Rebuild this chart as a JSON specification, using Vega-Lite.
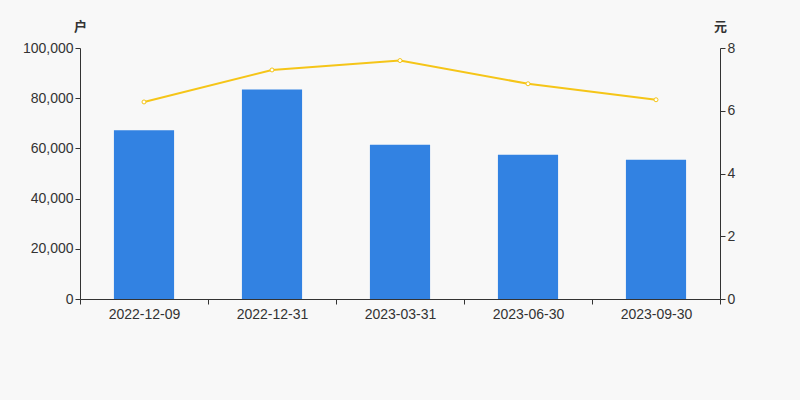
{
  "$schema": "https://vega.github.io/schema/vega-lite/v6.json",
  "autosize": "none",
  "width": 640,
  "height": 251,
  "padding": {"left": 80, "top": 48, "right": 80, "bottom": 101},
  "background": "#F8F8F8",
  "config": {
    "view": {"stroke": null},
    "font": "Liberation Sans",
    "axis": {
      "labelFont": "Liberation Sans",
      "labelFontSize": 14,
      "labelColor": "#333333",
      "domainColor": "#333333",
      "tickColor": "#333333",
      "grid": false,
      "titleFont": "Noto Sans CJK SC",
      "titleFontSize": 13,
      "titleFontWeight": "bold",
      "titleColor": "#333333"
    }
  },
  "data": {
    "values": [
      {"date": "2022-12-09", "holders": 67200, "price": 6.28},
      {"date": "2022-12-31", "holders": 83500, "price": 7.30},
      {"date": "2023-03-31", "holders": 61500, "price": 7.60},
      {"date": "2023-06-30", "holders": 57500, "price": 6.86},
      {"date": "2023-09-30", "holders": 55500, "price": 6.35}
    ]
  },
  "encoding": {
    "x": {
      "field": "date",
      "type": "nominal",
      "sort": null,
      "scale": {"paddingInner": 0, "paddingOuter": 0},
      "axis": {"title": null, "labelAngle": 0, "tickBand": "extent", "tickSize": 5, "labelPadding": 3}
    }
  },
  "layer": [
    {
      "mark": {"type": "bar", "color": "#3282E2", "width": {"band": 0.47}},
      "encoding": {
        "y": {
          "field": "holders",
          "type": "quantitative",
          "scale": {"domain": [0, 100000]},
          "axis": {
            "title": "户",
            "titleAngle": 0,
            "titleX": 0,
            "titleY": -15,
            "titleAlign": "center",
            "tickCount": 5,
            "format": ",.0f",
            "tickSize": 5
          }
        }
      }
    },
    {
      "mark": {
        "type": "line",
        "color": "#F5C518",
        "strokeWidth": 2,
        "point": {"filled": false, "fill": "#FFFFFF", "stroke": "#F5C518", "size": 16, "strokeWidth": 1}
      },
      "encoding": {
        "y": {
          "field": "price",
          "type": "quantitative",
          "scale": {"domain": [0, 8]},
          "axis": {
            "orient": "right",
            "title": "元",
            "titleAngle": 0,
            "titleX": 0,
            "titleY": -15,
            "titleAlign": "center",
            "tickCount": 4,
            "tickSize": 5
          }
        }
      }
    }
  ],
  "resolve": {"scale": {"y": "independent"}}
}
